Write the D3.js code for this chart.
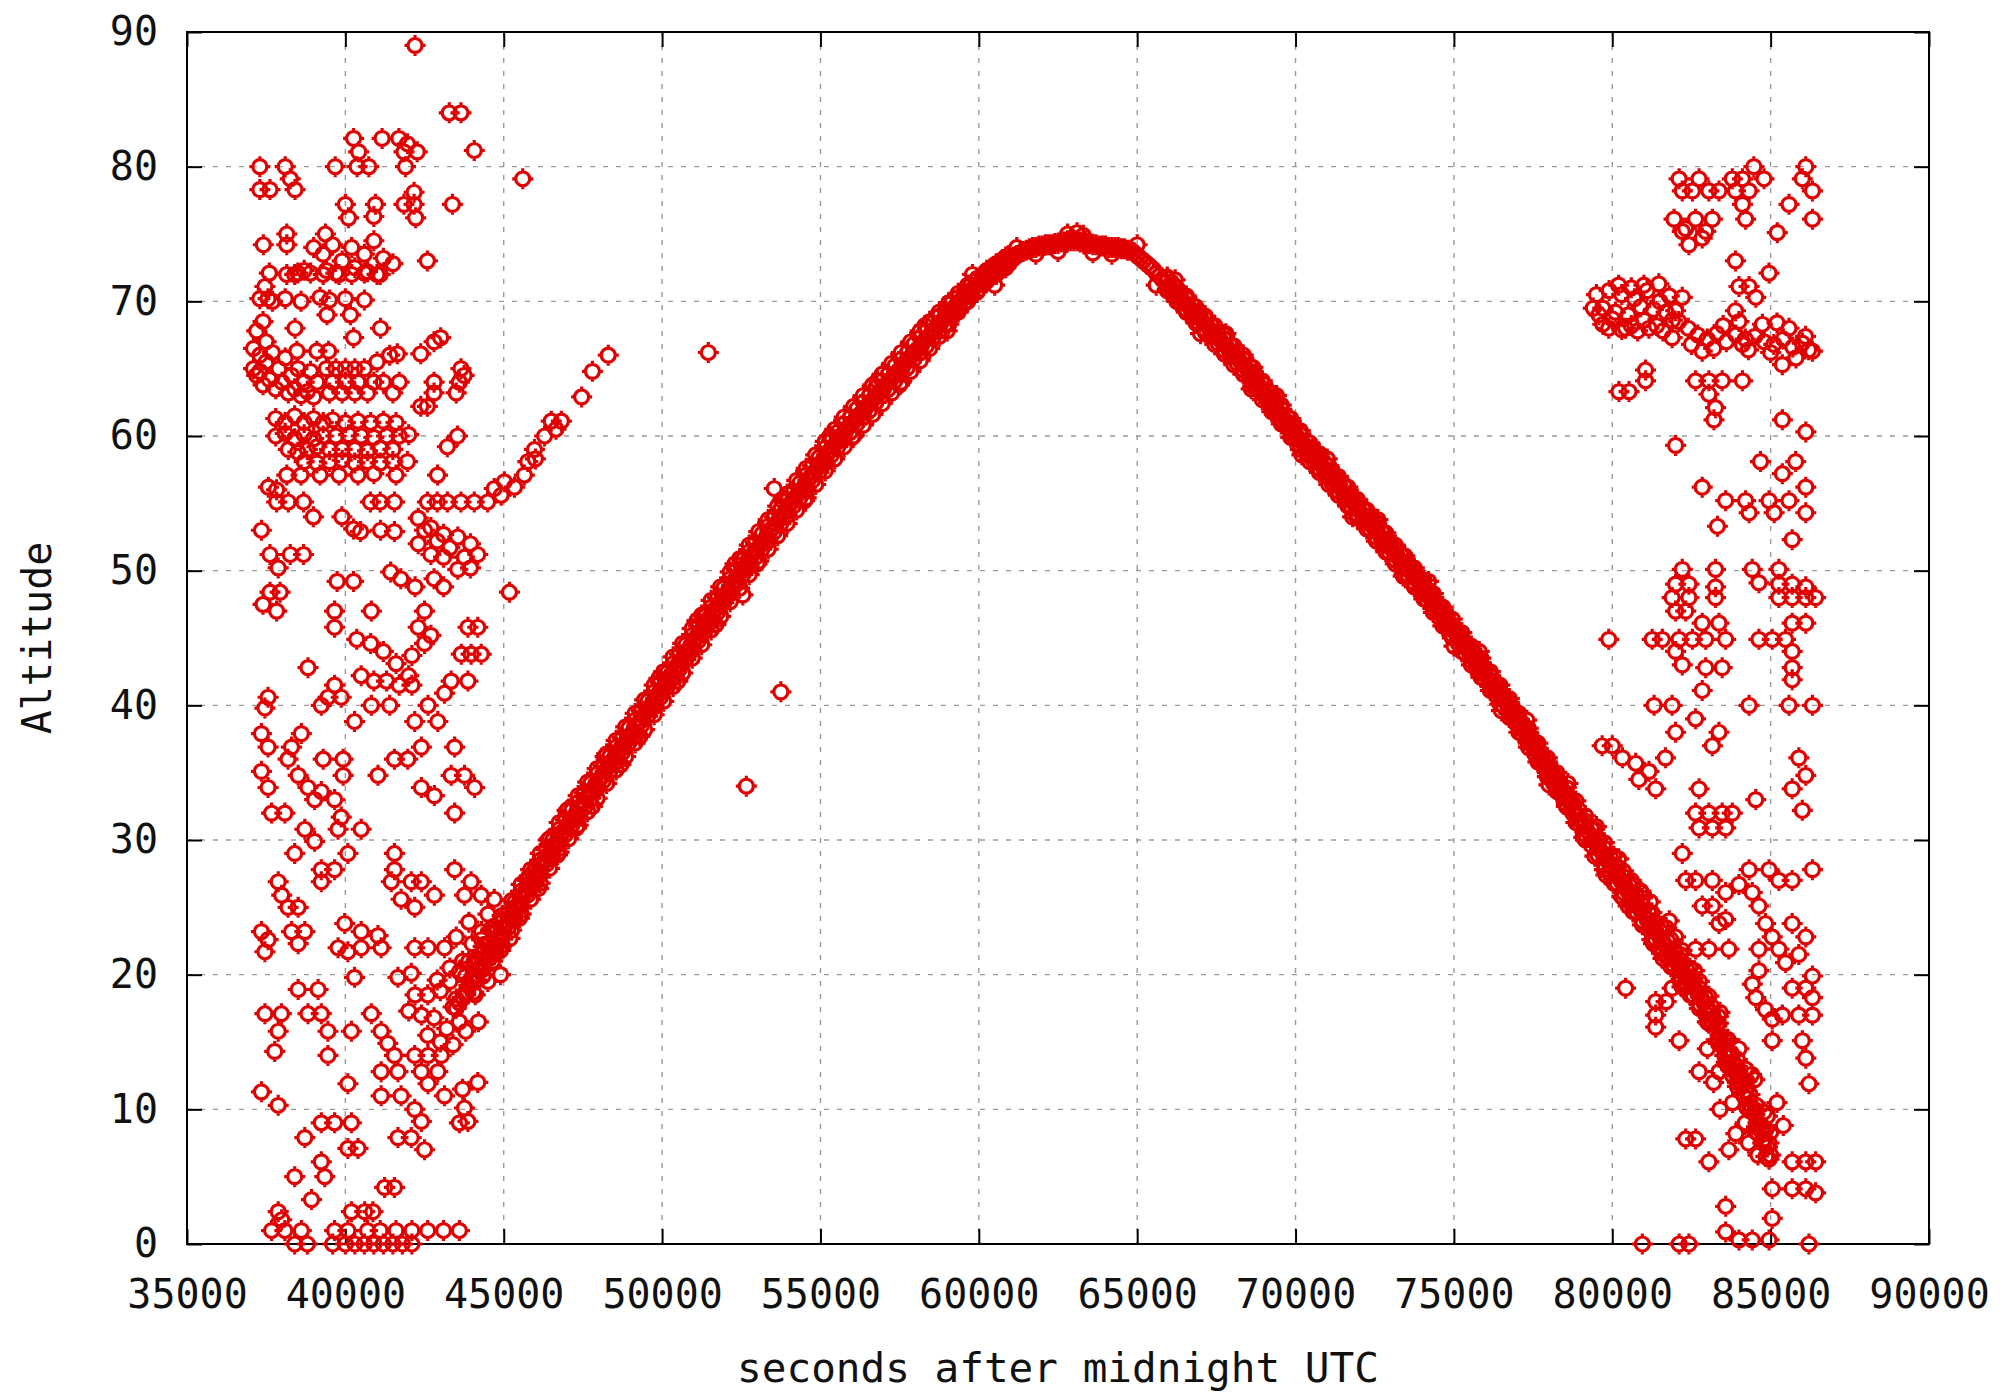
<!DOCTYPE html>
<html><head><meta charset="utf-8">
<script src="https://cdn.jsdelivr.net/npm/d3@7/dist/d3.min.js"></script>
<style>body{margin:0;background:#fff}svg{display:block}</style>
</head><body>
<svg id="chart" width="2008" height="1396"></svg>
<script>
// ---------- data ----------
const xTicks = [35000,40000,45000,50000,55000,60000,65000,70000,75000,80000,85000,90000];
const yTicks = [0,10,20,30,40,50,60,70,80,90];
const xTitle = "seconds after midnight UTC";
const yTitle = "Altitude";

// main dense track: [seconds, altitude]
const track = [
[43500,17.5],[43600,17.9],[43700,18.3],[43800,18.7],[43900,19.2],[44000,19.6],[44100,20.0],[44200,20.4],[44300,20.8],[44400,21.2],
[44500,21.5],[44600,21.9],[44700,22.3],[44800,22.7],[44900,23.1],[45000,23.5],[45100,23.8],[45200,24.2],[45300,24.6],[45400,25.0],
[45500,25.4],[45600,25.8],[45700,26.2],[45800,26.5],[45900,26.9],[46000,27.3],[46100,27.7],[46200,28.1],[46300,28.5],[46400,28.8],
[46500,29.2],[46600,29.6],[46700,30.0],[46800,30.3],[46900,30.7],[47000,31.0],[47100,31.4],[47200,31.7],[47300,32.0],[47400,32.4],
[47500,32.7],[47600,33.1],[47700,33.4],[47800,33.7],[47900,34.1],[48000,34.4],[48100,34.7],[48200,35.1],[48300,35.4],[48400,35.8],
[48500,36.1],[48600,36.4],[48700,36.8],[48800,37.1],[48900,37.5],[49000,37.8],[49100,38.1],[49200,38.5],[49300,38.8],[49400,39.2],
[49500,39.5],[49600,39.8],[49700,40.2],[49800,40.5],[49900,40.9],[50000,41.2],[50100,41.6],[50200,41.9],[50300,42.3],[50400,42.6],
[50500,43.0],[50600,43.3],[50700,43.7],[50800,44.0],[50900,44.4],[51000,44.7],[51100,45.1],[51200,45.4],[51300,45.8],[51400,46.1],
[51500,46.5],[51600,46.8],[51700,47.2],[51800,47.5],[51900,47.9],[52000,48.2],[52100,48.6],[52200,48.9],[52300,49.3],[52400,49.6],
[52500,50.0],[52600,50.3],[52700,50.6],[52800,51.0],[52900,51.3],[53000,51.6],[53100,51.9],[53200,52.2],[53300,52.5],[53400,52.9],
[53500,53.2],[53600,53.5],[53700,53.8],[53800,54.1],[53900,54.4],[54000,54.8],[54100,55.1],[54200,55.4],[54300,55.7],[54400,56.0],
[54500,56.3],[54600,56.7],[54700,57.0],[54800,57.3],[54900,57.6],[55000,57.9],[55100,58.3],[55200,58.6],[55300,58.9],[55400,59.2],
[55500,59.5],[55600,59.8],[55700,60.1],[55800,60.4],[55900,60.7],[56000,60.9],[56100,61.2],[56200,61.5],[56300,61.7],[56400,62.0],
[56500,62.3],[56600,62.5],[56700,62.8],[56800,63.1],[56900,63.3],[57000,63.6],[57100,63.9],[57200,64.1],[57300,64.4],[57400,64.7],
[57500,64.9],[57600,65.2],[57700,65.5],[57800,65.7],[57900,66.0],[58000,66.3],[58100,66.5],[58200,66.8],[58300,67.1],[58400,67.3],
[58500,67.6],[58600,67.9],[58700,68.1],[58800,68.4],[58900,68.7],[59000,68.9],[59100,69.2],[59200,69.5],[59300,69.7],[59400,70.0],
[59500,70.2],[59600,70.4],[59700,70.7],[59800,70.9],[59900,71.1],[60000,71.3],[60100,71.6],[60200,71.8],[60300,72.0],[60400,72.2],
[60500,72.3],[60600,72.5],[60700,72.7],[60800,72.8],[60900,73.0],[61000,73.1],[61100,73.3],[61200,73.4],[61300,73.6],[61400,73.7],
[61500,73.8],[61600,73.9],[61700,74.0],[61800,74.0],[61900,74.1],[62000,74.1],[62100,74.2],[62200,74.2],[62300,74.2],[62400,74.3],
[62500,74.3],[62600,74.4],[62700,74.4],[62800,74.5],[62900,74.5],[63000,74.5],[63100,74.5],[63200,74.4],[63300,74.4],[63400,74.3],
[63500,74.3],[63600,74.2],[63700,74.2],[63800,74.1],[63900,74.1],[64000,74.1],[64100,74.0],[64200,74.0],[64300,74.0],[64400,74.0],
[64500,73.9],[64600,73.9],[64700,73.8],[64800,73.8],[64900,73.6],[65000,73.4],[65100,73.2],[65200,73.0],[65300,72.8],[65400,72.6],
[65500,72.4],[65600,72.1],[65700,71.9],[65800,71.6],[65900,71.4],[66000,71.1],[66100,70.9],[66200,70.6],[66300,70.4],[66400,70.1],
[66500,69.9],[66600,69.7],[66700,69.4],[66800,69.2],[66900,68.9],[67000,68.7],[67100,68.4],[67200,68.2],[67300,67.9],[67400,67.7],
[67500,67.4],[67600,67.2],[67700,66.9],[67800,66.7],[67900,66.4],[68000,66.2],[68100,65.9],[68200,65.7],[68300,65.4],[68400,65.2],
[68500,64.9],[68600,64.6],[68700,64.2],[68800,63.9],[68900,63.6],[69000,63.3],[69100,63.0],[69200,62.7],[69300,62.3],[69400,62.0],
[69500,61.7],[69600,61.4],[69700,61.1],[69800,60.8],[69900,60.4],[70000,60.1],[70100,59.8],[70200,59.6],[70300,59.3],[70400,59.0],
[70500,58.7],[70600,58.4],[70700,58.2],[70800,57.9],[70900,57.6],[71000,57.3],[71100,57.0],[71200,56.7],[71300,56.5],[71400,56.2],
[71500,55.9],[71600,55.6],[71700,55.3],[71800,55.1],[71900,54.8],[72000,54.5],[72100,54.2],[72200,53.9],[72300,53.6],[72400,53.4],
[72500,53.1],[72600,52.8],[72700,52.5],[72800,52.2],[72900,51.9],[73000,51.7],[73100,51.4],[73200,51.1],[73300,50.8],[73400,50.6],
[73500,50.3],[73600,50.0],[73700,49.7],[73800,49.4],[73900,49.1],[74000,48.7],[74100,48.4],[74200,48.1],[74300,47.8],[74400,47.4],
[74500,47.1],[74600,46.8],[74700,46.5],[74800,46.1],[74900,45.8],[75000,45.5],[75100,45.2],[75200,44.9],[75300,44.5],[75400,44.2],
[75500,43.9],[75600,43.6],[75700,43.2],[75800,42.9],[75900,42.6],[76000,42.3],[76100,41.9],[76200,41.6],[76300,41.3],[76400,41.0],
[76500,40.6],[76600,40.3],[76700,40.0],[76800,39.6],[76900,39.3],[77000,38.9],[77100,38.5],[77200,38.2],[77300,37.8],[77400,37.4],
[77500,37.0],[77600,36.7],[77700,36.3],[77800,35.9],[77900,35.6],[78000,35.2],[78100,34.8],[78200,34.4],[78300,34.1],[78400,33.7],
[78500,33.3],[78600,33.0],[78700,32.6],[78800,32.2],[78900,31.9],[79000,31.5],[79100,31.1],[79200,30.7],[79300,30.4],[79400,30.0],
[79500,29.7],[79600,29.3],[79700,29.0],[79800,28.6],[79900,28.3],[80000,27.9],[80100,27.6],[80200,27.2],[80300,26.9],[80400,26.6],
[80500,26.2],[80600,25.9],[80700,25.5],[80800,25.2],[80900,24.8],[81000,24.5],[81100,24.1],[81200,23.8],[81300,23.4],[81400,23.1],
[81500,22.8],[81600,22.4],[81700,22.1],[81800,21.7],[81900,21.4],[82000,21.0],[82100,20.7],[82200,20.3],[82300,20.0],[82400,19.7],
[82500,19.3],[82600,19.0],[82700,18.6],[82800,18.3],[82900,17.9],[83000,17.6],[83100,17.2],[83200,16.8],[83300,16.2],[83400,15.5],
[83500,14.9],[83600,14.4],[83700,13.9],[83800,13.4],[83900,12.9],[84000,12.4],[84100,11.9],[84200,11.4],[84300,10.8],[84400,10.2],
[84500,9.6],[84600,9.0],[84700,8.4],[84800,7.8],[84900,7.2],[85000,6.6]
];

// readings just above / below the track centre
const trackInner = [
[44150,20.8],[44150,19.6],[44350,21.6],[44350,20.4],[44550,22.3],[44550,21.2],[44750,23.1],[44750,22.0],[44950,23.9],[44950,22.8],
[45150,24.6],[45150,23.5],[45350,25.4],[45350,24.3],[45550,26.2],[45550,25.1],[45750,27.0],[45750,25.9],[45950,27.7],[45950,26.6],
[46150,28.5],[46150,27.4],[46350,29.3],[46350,28.2],[46550,30.0],[46550,28.9],[46750,30.8],[46750,29.7],[46950,31.5],[46950,30.4],
[47150,32.2],[47150,31.1],[47350,32.8],[47350,31.7],[47550,33.5],[47550,32.4],[47750,34.2],[47750,33.1],[47950,34.9],[47950,33.8],
[48150,35.5],[48150,34.4],[48350,36.2],[48350,35.1],[48550,36.9],[48550,35.8],[48750,37.6],[48750,36.5],[48950,38.3],[48950,37.2],
[49150,38.9],[49150,37.8],[49350,39.6],[49350,38.5],[49550,40.3],[49550,39.2],[49750,41.0],[49750,39.9],[49950,41.7],[49950,40.6],
[50150,42.4],[50150,41.3],[50350,43.1],[50350,42.0],[50550,43.8],[50550,42.7],[50750,44.5],[50750,43.4],[50950,45.2],[50950,44.1],
[51150,45.9],[51150,44.8],[51350,46.6],[51350,45.5],[51550,47.3],[51550,46.2],[51750,48.0],[51750,46.9],[51950,48.7],[51950,47.6],
[52150,49.4],[52150,48.3],[52350,50.1],[52350,49.0],[52550,50.8],[52550,49.7],[52750,51.4],[52750,50.3],[52950,52.1],[52950,51.0],
[53150,52.7],[53150,51.6],[53350,53.3],[53350,52.2],[53550,54.0],[53550,52.9],[53750,54.6],[53750,53.5],[53950,55.2],[53950,54.1],
[54150,55.9],[54150,54.8],[54350,56.5],[54350,55.4],[54550,57.1],[54550,56.0],[54750,57.8],[54750,56.7],[54950,58.4],[54950,57.3],
[55150,59.1],[55150,58.0],[55350,59.7],[55350,58.6],[55550,60.3],[55550,59.2],[55750,60.9],[55750,59.8],[55950,61.4],[55950,60.3],
[56150,62.0],[56150,60.9],[56350,62.5],[56350,61.4],[56550,63.0],[56550,61.9],[56750,63.6],[56750,62.5],[56950,64.1],[56950,63.0],
[57150,64.6],[57150,63.5],[57350,65.2],[57350,64.1],[57550,65.7],[57550,64.6],[57750,66.2],[57750,65.1],[57950,66.8],[57950,65.7],
[58150,67.3],[58150,66.2],[58350,67.8],[58350,66.7],[58550,68.4],[58550,67.3],[58750,68.9],[58750,67.8],[58950,69.3],[58950,68.3],
[59150,69.9],[59150,68.9],[59350,70.3],[59350,69.5],[59550,70.7],[59550,69.9],[59750,71.2],[59750,70.4],[59950,71.6],[59950,70.8],
[60150,72.0],[60150,71.4],[60350,72.4],[60350,71.8],[60550,72.7],[60550,72.1],[60750,73.1],[60750,72.5],[60950,73.4],[60950,72.8],
[65950,71.7],[65950,70.9],[66150,71.2],[66150,70.4],[66350,70.7],[66350,69.9],[66550,70.2],[66550,69.4],[66750,69.7],[66750,68.9],
[66950,69.2],[66950,68.4],[67150,68.7],[67150,67.9],[67350,68.2],[67350,67.4],[67550,67.7],[67550,66.9],[67750,67.2],[67750,66.4],
[67950,66.7],[67950,65.9],[68150,66.2],[68150,65.4],[68350,65.7],[68350,64.9],[68550,65.2],[68550,64.4],[68750,64.5],[68750,63.7],
[68950,63.9],[68950,63.1],[69150,63.3],[69150,62.5],[69350,62.6],[69350,61.8],[69550,62.0],[69550,61.2],[69750,61.4],[69750,60.6],
[69950,60.7],[69950,59.9],[70150,60.1],[70150,59.3],[70350,59.6],[70350,58.8],[70550,59.0],[70550,58.2],[70750,58.4],[70750,57.6],
[70950,57.9],[70950,57.1],[71150,57.3],[71150,56.5],[71350,56.7],[71350,55.9],[71550,56.2],[71550,55.4],[71750,55.6],[71750,54.8],
[71950,55.0],[71950,54.2],[72150,54.5],[72150,53.7],[72350,53.9],[72350,53.1],[72550,53.3],[72550,52.5],[72750,52.8],[72750,52.0],
[72950,52.2],[72950,51.4],[73150,51.6],[73150,50.8],[73350,51.1],[73350,50.3],[73550,50.5],[73550,49.7],[73750,49.9],[73750,49.1],
[73950,49.3],[73950,48.5],[74150,48.6],[74150,47.8],[74350,48.0],[74350,47.2],[74550,47.3],[74550,46.5],[74750,46.7],[74750,45.9],
[74950,46.0],[74950,45.2],[75150,45.4],[75150,44.6],[75350,44.7],[75350,43.9],[75550,44.1],[75550,43.3],[75750,43.4],[75750,42.6],
[75950,42.8],[75950,42.0],[76150,42.2],[76150,41.4],[76350,41.5],[76350,40.7],[76550,40.8],[76550,40.0],[76750,40.2],[76750,39.4],
[76950,39.5],[76950,38.7],[77150,38.7],[77150,37.9],[77350,38.0],[77350,37.2],[77550,37.2],[77550,36.4],[77750,36.5],[77750,35.7],
[77950,35.8],[77950,35.0],[78150,35.0],[78150,34.2],[78350,34.3],[78350,33.5],[78550,33.5],[78550,32.7],[78750,32.8],[78750,32.0],
[78950,32.2],[78950,31.2],[79150,31.4],[79150,30.4],[79350,30.8],[79350,29.6],[79550,30.1],[79550,28.9],[79750,29.4],[79750,28.2],
[79950,28.7],[79950,27.5],[80150,28.0],[80150,26.8],[80350,27.3],[80350,26.1],[80550,26.6],[80550,25.4],[80750,25.9],[80750,24.7],
[80950,25.2],[80950,24.0],[81150,24.6],[81150,23.4],[81350,23.9],[81350,22.7],[81550,23.2],[81550,22.0],[81750,22.5],[81750,21.3],
[81950,21.8],[81950,20.6],[82150,21.1],[82150,19.9],[82350,20.4],[82350,19.2],[82550,19.7],[82550,18.5],[82750,19.0],[82750,17.8],
[82950,18.3],[82950,17.1],[83150,17.6],[83150,16.4],[83350,16.4],[83350,15.2],[83550,15.2],[83550,14.0],[83750,14.2],[83750,13.0],
[83950,13.2],[83950,12.0],[84150,12.2],[84150,11.0],[84350,11.1],[84350,9.9],[84550,9.9],[84550,8.7],[84750,8.7],[84750,7.5],
[84950,7.5],[84950,6.3]
];

// upper and lower edges of the track
const trackUpper = [
[44050,20.9],[44350,22.1],[44650,23.2],[44950,24.4],[45250,25.5],[45550,26.7],[45850,27.8],[46150,29.0],[46450,30.1],[46750,31.3],
[47050,32.3],[47350,33.3],[47650,34.3],[47950,35.3],[48250,36.4],[48550,37.4],[48850,38.4],[49150,39.4],[49450,40.4],[49750,41.5],
[50050,42.5],[50350,43.6],[50650,44.6],[50950,45.7],[51250,46.7],[51550,47.8],[51850,48.8],[52150,49.9],[52450,50.9],[52750,51.9],
[53050,52.9],[53350,53.8],[53650,54.8],[53950,55.7],[54250,56.7],[54550,57.6],[54850,58.6],[55150,59.6],[55450,60.5],[55750,61.4],
[56050,62.2],[56350,63.0],[56650,63.8],[56950,64.6],[57250,65.4],[57550,66.2],[57850,67.0],[58150,67.8],[58450,68.5],[58750,69.2],
[59050,69.9],[59350,70.6],[59650,71.2],[59950,71.7],[60250,72.3],[60550,72.8],[60850,73.3],
[65950,71.8],[66250,71.0],[66550,70.4],[66850,69.6],[67150,68.9],[67450,68.2],[67750,67.5],[68050,66.7],[68350,66.0],[68650,65.1],
[68950,64.1],[69250,63.2],[69550,62.3],[69850,61.3],[70150,60.4],[70450,59.5],[70750,58.7],[71050,57.8],[71350,57.0],[71650,56.2],
[71950,55.3],[72250,54.5],[72550,53.6],[72850,52.8],[73150,51.9],[73450,51.1],[73750,50.2],[74050,49.3],[74350,48.3],[74650,47.3],
[74950,46.4],[75250,45.4],[75550,44.4],[75850,43.5],[76150,42.5],[76450,41.5],[76750,40.5],[77050,39.4],[77350,38.3],[77650,37.2],
[77950,36.1],[78250,35.0],[78550,33.9],[78850,32.9],[79150,31.8],[79450,30.8],[79750,29.8],[80050,28.8],[80350,27.7],[80650,26.7],
[80950,25.7],[81250,24.6],[81550,23.6],[81850,22.6],[82150,21.5],[82450,20.5],[82750,19.5],[83050,18.4],[83350,16.9],[83650,15.2],
[83950,13.7],[84250,12.1],[84550,10.3],[84850,8.5]
];
const trackLower = [
[44050,18.7],[44350,19.9],[44650,21.0],[44950,22.2],[45250,23.3],[45550,24.5],[45850,25.6],[46150,26.8],[46450,27.9],[46750,29.1],
[47050,30.1],[47350,31.1],[47650,32.1],[47950,33.1],[48250,34.2],[48550,35.2],[48850,36.2],[49150,37.2],[49450,38.2],[49750,39.3],
[50050,40.3],[50350,41.4],[50650,42.4],[50950,43.5],[51250,44.5],[51550,45.6],[51850,46.6],[52150,47.7],[52450,48.7],[52750,49.7],
[53050,50.7],[53350,51.6],[53650,52.6],[53950,53.5],[54250,54.5],[54550,55.4],[54850,56.4],[55150,57.4],[55450,58.3],[55750,59.2],
[56050,60.0],[56350,60.8],[56650,61.6],[56950,62.4],[57250,63.2],[57550,64.0],[57850,64.8],[58150,65.6],[58450,66.5],[58750,67.4],
[59050,68.3],[59350,69.2],[59650,70.0],[59950,70.7],[60250,71.5],[60550,72.0],[60850,72.5],
[65950,70.8],[66250,70.0],[66550,69.2],[66850,68.4],[67150,67.7],[67450,66.8],[67750,66.1],[68050,65.3],[68350,64.6],[68650,63.7],
[68950,62.7],[69250,61.8],[69550,60.9],[69850,59.9],[70150,59.0],[70450,58.1],[70750,57.3],[71050,56.4],[71350,55.6],[71650,54.8],
[71950,53.9],[72250,53.1],[72550,52.2],[72850,51.4],[73150,50.5],[73450,49.7],[73750,48.8],[74050,47.9],[74350,46.9],[74650,45.9],
[74950,45.0],[75250,44.0],[75550,43.0],[75850,42.1],[76150,41.1],[76450,40.1],[76750,39.1],[77050,38.0],[77350,36.9],[77650,35.8],
[77950,34.7],[78250,33.6],[78550,32.5],[78850,31.3],[79150,30.0],[79450,28.8],[79750,27.8],[80050,26.8],[80350,25.7],[80650,24.7],
[80950,23.7],[81250,22.6],[81550,21.6],[81850,20.6],[82150,19.5],[82450,18.5],[82750,17.5],[83050,16.4],[83350,14.9],[83650,13.2],
[83950,11.7],[84250,10.1],[84550,8.3],[84850,6.5]
];

// stray readings just off the track
const trackSpread = [
[44300,22.6],[44600,23.4],[44900,21.8],[45200,22.7],[45500,24.2],[45800,27.3],[46100,26.4],[46400,30.0],[46700,28.9],[47000,32.2],
[47300,30.9],[47800,32.5],[48200,36.2],[48700,35.6],[49300,37.7],[49900,42.0],[50500,41.8],[51100,46.3],[51700,46.0],[52300,50.5],
[53000,50.5],[53800,55.2],[54500,55.2],[55300,60.0],[56000,59.9],[56800,64.1],[57500,63.8],[58300,68.2],[59000,67.8],[59800,72.0],
[60500,71.2],[61200,74.0],[61800,73.5],[62500,73.7],[62800,75.0],[63100,75.1],[63300,74.9],[63600,73.6],[64200,73.5],[65000,74.2],
[65600,71.2],[66200,71.6],[67000,67.6],[67800,67.6],[68600,63.5],[69400,63.0],[70200,58.6],[71000,58.3],[71800,54.0],[72600,53.8],
[73400,49.6],[74200,49.2],[75000,44.4],[75800,44.0],[76500,39.6],[77300,38.9],[78000,34.1],[78600,34.2],[79100,30.2],[79500,31.0],
[79800,27.4],[80200,28.6],[80500,25.1],[80900,26.1],[81300,22.3],[81700,23.5],[82200,19.1],[82600,20.3],[83000,16.5],[83400,17.2],
[83800,12.5],[84200,13.0],[84600,8.2],[84900,9.5]
];

// morning scatter (left cluster)
const morning = [
[43280,84],[43650,84],[42200,89],[40260,82.1],[41160,82.1],[41690,82.1],[40420,81.1],[41850,81.1],[42270,81.1],[41960,81.7],
[44070,81.2],[41900,80],[37300,80],[38100,80],[38260,79.1],[39680,80],[40370,80],[40740,80],[37300,78.3],[37620,78.3],
[38410,78.3],[45600,79.1],[40000,77.2],[40950,77.2],[40100,76.2],[40900,76.3],[41850,77.2],[42170,77.2],[42170,78.1],[42220,76.2],
[43380,77.2],[37410,74.2],[38150,74.2],[38150,75],[39370,75],[39000,74],[39300,73.5],[39600,74.2],[39900,73],[40200,74],
[40600,73.5],[40900,74.5],[41200,73.2],[41500,72.8],[39400,72.3],[39800,72],[40300,72.5],[40700,72.2],[41100,72],[38700,72.3],
[38400,72],[37600,72.1],[42590,73],[38150,72],[38500,72.1],[38900,72.1],[39300,72],[39700,72.1],[40200,72],[40600,72.1],
[41000,72],[37460,71.1],[37560,70.2],[37300,70.2],[37700,70],[38100,70.2],[38600,70],[39200,70.3],[39500,70.1],[40000,70.2],
[40600,70.1],[38410,68],[41110,68],[39420,69],[40160,69],[40260,67.3],[41640,66.1],[42380,66.1],[42800,67],[43010,67.3],
[37100,66.5],[37300,66],[37500,65.5],[37700,66.2],[37900,65],[38100,65.8],[38300,64.5],[38500,65],[38700,64],[38900,64.8],
[39100,64],[37200,64.5],[37400,63.8],[37600,64.2],[37800,63.5],[38000,64],[38200,63.2],[38400,63.5],[38600,63],[38800,63.3],
[39000,62.9],[37100,65],[37300,64.8],[37500,67],[37200,67.8],[37400,68.5],[38470,66.3],[39100,66.3],[39470,66.3],[39400,65],
[39700,65],[40000,65],[40300,65],[40600,65],[39600,64],[40000,64],[40400,64],[40900,64],[41200,64],[41700,64],
[42800,64],[43600,64],[39500,63.2],[39900,63.2],[40300,63.2],[40700,63.2],[41500,63.2],[42800,63.2],[43500,63.2],[42380,62.2],
[42590,62.2],[43650,65],[43750,64.5],[41000,65.5],[41400,66],[37800,61.3],[38100,61],[38400,61.5],[38700,61],[39000,61.3],
[39300,61],[39600,61.2],[40000,61],[40400,61.1],[40800,61],[41200,61.1],[41600,61],[37800,60],[38100,60.2],[38400,59.8],
[38700,60.1],[39000,59.8],[39300,60],[39700,60],[40100,60.1],[40500,60],[40900,59.9],[41300,60],[41700,60],[42000,60.1],
[38200,59],[38500,58.8],[38800,59],[39100,59.2],[39500,59],[39900,59],[40300,59],[40700,58.9],[41100,59.1],[41500,59],
[38700,58.1],[39100,58],[39500,58.1],[39900,58.2],[40300,58],[40700,58.1],[41100,58],[41500,58.1],[41960,58.1],[43220,59.2],
[43540,60],[46500,61.1],[46820,61.1],[46290,60],[45970,59],[45760,58.1],[45650,57.1],[45340,56.2],[44920,55.6],[44490,55.1],
[44070,55.1],[43650,55.1],[43220,55.1],[44700,56.1],[45020,56.6],[46650,60.5],[46000,58.3],[47460,62.9],[47800,64.8],[48300,66],
[38150,57.1],[38600,57.1],[39200,57.1],[39800,57.1],[40400,57.1],[40900,57.2],[41600,57.1],[42910,57.1],[37570,56.2],[37830,56],
[37830,55.1],[38200,55.1],[38680,55.1],[40790,55.1],[41100,55.1],[41550,55.1],[42590,55.1],[42900,55.1],[38990,54],[39890,54],
[37350,53],[40260,53.1],[40480,52.9],[41110,53],[41550,52.9],[42300,53.9],[42700,53.2],[43100,52.7],[43550,52.5],[43950,52],
[42500,53],[42900,52.2],[43300,51.7],[43760,51],[43100,51],[43550,50.1],[43950,50.2],[44180,51.2],[42300,52],[42700,51.2],
[37620,51.2],[38260,51.2],[38680,51.2],[37880,50.2],[39740,49.2],[40260,49.2],[41430,49.9],[41750,49.4],[42200,48.8],[42800,49.4],
[43100,48.8],[45180,48.4],[37620,48.4],[37940,48.4],[37400,47.5],[37830,47],[39660,47],[39660,45.8],[40820,47],[42500,47],
[40360,44.9],[40800,44.6],[41200,44],[41600,43.1],[42000,42.2],[40500,42.2],[40900,41.8],[41300,41.8],[41700,41.5],[42100,41.5],
[42300,45.8],[42500,44.6],[42100,43.7],[42700,45.2],[43870,45.8],[44180,45.8],[43660,43.8],[43970,43.8],[44290,43.8],[43340,41.8],
[43870,41.8],[43130,40.9],[38820,42.8],[37560,40.6],[37460,39.8],[39660,41.5],[39450,40.6],[39870,40.6],[39240,40],[40290,38.8],
[40820,40],[41400,40],[42190,38.8],[42610,40],[42920,38.8],[43450,36.9],[42400,36.9],[41550,36],[41970,36],[41030,34.8],
[42400,33.9],[42810,33.3],[43340,34.8],[43760,34.8],[44080,33.9],[43450,32],[37350,37.9],[37560,36.9],[38300,36.9],[38610,37.9],
[38190,36],[39300,36],[39930,36],[39930,34.8],[37350,35.1],[37560,33.9],[38510,34.8],[38820,33.9],[39030,33],[39240,33.6],
[39660,33],[39870,31.7],[37670,32],[38090,32],[38720,30.8],[39030,29.9],[39770,30.8],[40500,30.8],[38400,29],[40080,29],
[39240,27.8],[39660,27.8],[39240,26.9],[41550,29],[41550,27.8],[41450,26.9],[42080,26.9],[42400,26.9],[42810,25.9],[41760,25.6],
[42190,25],[43450,27.8],[43970,26.9],[43760,25.9],[44290,25.9],[44700,25.6],[37880,26.9],[37990,25.9],[38190,25],[38510,25],
[37350,23.2],[37560,22.6],[37460,21.7],[38300,23.2],[38510,22.3],[38720,23.2],[39980,23.8],[40500,23.2],[41030,22.9],[39770,22],
[40080,21.7],[40500,22],[41130,22],[40290,19.8],[42190,22],[42610,22],[43130,22],[41660,19.8],[42080,20.1],[42200,18.5],
[42600,18.5],[43000,18.8],[43400,17.6],[43800,18.5],[44100,18.5],[42400,17],[42800,16.8],[43200,16],[43600,16.5],[42000,17.3],
[42600,15.5],[43000,15],[43400,14.8],[43800,15.8],[44200,16.5],[42900,19.6],[43300,20.5],[43700,21],[44000,22.3],[44300,23.2],
[43900,23.9],[43500,22.8],[44500,24.5],[44700,21.5],[44900,20],[44500,19.5],[38510,18.9],[39140,18.9],[37460,17.1],[37980,17.1],
[38820,17.1],[39240,17.1],[37880,15.8],[37770,14.3],[39450,15.8],[39450,14],[40190,15.8],[40820,17.1],[41130,15.8],[41340,14.9],
[41550,14],[41130,12.8],[41660,12.8],[42190,14],[42610,14],[43030,14],[42400,12.8],[42920,12.8],[42610,11.9],[43130,11],
[43760,10.1],[43870,9.1],[44180,12],[40080,11.9],[37350,11.3],[37880,10.3],[39240,9],[39660,9],[40190,9],[38720,7.9],
[40080,7.1],[40400,7.1],[41130,11],[41760,11],[42190,10],[42400,9.1],[42500,7],[41660,7.9],[42080,7.9],[43600,9],
[43700,11.5],[39240,6.1],[39350,5],[38400,5],[38930,3.3],[41240,4.2],[41550,4.2],[37880,2.4],[37990,1.8],[40190,2.4],
[40610,2.4],[40870,2.4],[37670,1],[38090,1],[38610,1],[39660,1],[40080,1],[40700,1],[41100,1],[41600,1],
[42100,1],[42600,1],[43100,1],[43600,1],[38400,0],[38800,0],[39600,0],[40000,0],[40300,0],[40600,0],
[40900,0],[41200,0],[41500,0],[41800,0],[42100,0],[43300,19.5],[43600,20.2],[43900,21],[43500,18.2],[43800,19.9]
];

// evening scatter (right cluster)
const evening = [
[82110,79.1],[82740,79.1],[82210,78.2],[82530,78.2],[83050,78.2],[83370,78.2],[83790,79.1],[84110,79.1],[84470,80],[84790,79.1],
[83890,78.2],[84320,78.2],[84110,77.2],[84210,76.1],[86110,80],[86000,79.1],[86320,78.2],[86320,76.1],[85580,77.2],[85210,75.1],
[81950,76.1],[82320,75.4],[82630,76.1],[83160,76.1],[82950,75.2],[82420,74.2],[82840,74.7],[82210,75.2],[83890,73],[84950,72.1],
[84000,71.1],[84320,71.1],[84530,70.3],[79580,69],[79890,68],[80420,68],[81160,68],[81470,71.3],[82210,70.3],[81890,67.3],
[82840,66.3],[83890,69.3],[84110,66.8],[84740,68.3],[85580,68],[85370,65.3],[86320,66.3],[79500,70.5],[79700,69.5],[79900,70.8],
[80100,69.2],[80300,70.5],[80500,69],[80700,70.2],[80900,69.6],[81100,70.8],[81300,69.4],[81500,70],[81700,69.2],[81900,68.6],
[82100,68.5],[79400,69.5],[79700,68.3],[80000,68.7],[80300,67.9],[80600,68.2],[80800,67.8],[81000,68.6],[81400,68.2],[81600,67.8],
[80200,71.2],[80600,71],[81000,71.2],[81800,70.4],[82000,69.3],[82400,68],[82700,67.5],[83000,67.2],[83300,67.6],[83600,67],
[83900,67.5],[84200,67.2],[84500,67.4],[84800,67],[85100,66.8],[85400,67.2],[85700,66.6],[86000,66.9],[86200,66.4],[82500,66.8],
[83200,66.5],[84300,66.4],[85000,66.2],[85800,65.8],[83500,68.2],[84000,68.5],[85200,68.4],[86100,67.4],[81050,64.9],[81050,64.1],
[80210,63.3],[80530,63.3],[82630,64.1],[83050,64.1],[83470,64.1],[84110,64.1],[83050,63.1],[83260,62.1],[83210,61.2],[85370,61.2],
[86110,60.3],[82000,59.3],[82840,56.2],[83580,55.2],[84210,55.2],[84320,54.3],[84680,58.1],[85370,57.2],[85790,58.1],[86110,56.2],
[86110,54.3],[84950,55.2],[85580,55.2],[85110,54.3],[83320,53.3],[85680,52.3],[82210,50.1],[83260,50.1],[84420,50.1],[85260,50.1],
[82000,49],[82420,49],[83260,48.8],[84630,49.1],[85260,49],[85680,49],[86110,48.8],[81890,48],[82420,48],[83260,48],
[85260,48],[85680,48],[86110,48],[86420,48],[82000,47],[82320,47],[82840,46.1],[83370,46.1],[85680,46.1],[86110,46.1],
[79890,44.9],[81260,44.9],[81580,44.9],[82110,44.9],[82530,44.9],[82950,44.9],[83580,44.9],[84630,44.9],[85050,44.9],[85470,44.9],
[82000,44],[82210,43],[82950,42.8],[83470,42.8],[85680,44],[85680,42.8],[85680,41.9],[82840,41.1],[81320,40],[81890,40],
[84320,40],[85580,40],[86320,40],[82000,38],[83370,38],[82630,39],[83160,37],[79680,37],[80000,37],[80320,36.1],
[80740,35.7],[81160,35.1],[80840,34.5],[81370,33.8],[81680,36.1],[85890,36.1],[86110,34.8],[85680,33.8],[86000,32.2],[82740,33.8],
[82630,32],[83050,32],[83470,32],[83790,32],[82740,30.9],[83160,30.9],[83580,30.9],[84530,33],[82210,29],[82320,27],
[82630,27],[83160,27],[83580,26.1],[84000,26.7],[84420,26.1],[84630,25.1],[84320,27.8],[84950,27.8],[85260,27],[85680,27],
[86320,27.8],[82840,25.1],[83160,25.1],[83370,23.8],[83580,24.1],[84840,23.8],[85680,23.8],[86110,22.8],[85050,22.8],[85260,21.9],
[85470,20.9],[85890,21.5],[84630,21.9],[84630,20.3],[84420,19.3],[84530,18.3],[84840,17.4],[85050,16.7],[85680,19],[86110,19],
[86320,19.9],[86320,18.3],[85370,17],[85890,17],[86320,17],[86000,15.1],[86110,13.8],[85050,15.1],[86210,11.9],[82630,21.9],
[83050,21.9],[83680,21.9],[82110,20.3],[81890,19],[81370,18],[81700,18],[81370,17],[81370,16.1],[82110,15.1],[80420,19],
[82740,12.8],[83370,12.8],[83600,13.5],[84000,14.5],[82320,7.8],[82630,7.8],[83050,6.1],[83680,7],[85680,6.1],[86110,6.1],
[86420,6.1],[85050,4.1],[85680,4.1],[86110,4.1],[86420,3.8],[83580,2.8],[85050,1.9],[83580,0.9],[84000,0.3],[84420,0.3],
[84950,0.3],[80950,0],[82110,0],[82420,0],[86210,0],[80600,27],[80900,26.2],[81200,25.4],[80300,25.8],[81500,23.3],
[81800,24],[82000,22.8],[82200,21.8],[81600,21.2],[83800,10.5],[84200,9],[84400,12.6],[84800,9.8],[85000,8.3],[84600,6.6],
[84300,7.5],[83900,8.2],[83400,10],[83200,12],[83000,14.5],[84500,12.2],[85200,10.5],[85400,8.8]
];

// isolated points in the middle of the day
const strays = [[51460,66.2],[52660,34],[53750,41],[53540,56.1],[52550,48.2]];

// ---------- drawing ----------
const svg = d3.select("#chart");
const x = d3.scaleLinear().domain([35000, 90000]).range([187, 1929]);
const y = d3.scaleLinear().domain([0, 90]).range([1244, 32]);
const FONT = "'DejaVu Sans Mono', 'Liberation Mono', monospace";

// grid
const grid = svg.append("g").attr("stroke", "#9a9a9a").attr("stroke-width", 1.4).attr("stroke-dasharray", "5,8").attr("fill", "none");
grid.selectAll("line.v").data(xTicks.slice(1, -1)).join("line").attr("class", "v")
  .attr("x1", d => x(d)).attr("x2", d => x(d)).attr("y1", y(90)).attr("y2", y(0));
grid.selectAll("line.h").data(yTicks.slice(1, -1)).join("line").attr("class", "h")
  .attr("x1", x(35000)).attr("x2", x(90000)).attr("y1", d => y(d)).attr("y2", d => y(d));

// frame
svg.append("rect").attr("x", x(35000)).attr("y", y(90))
  .attr("width", x(90000) - x(35000)).attr("height", y(0) - y(90))
  .attr("fill", "none").attr("stroke", "#000").attr("stroke-width", 2);

function styleAxis(g) {
  g.select(".domain").remove();
  g.selectAll(".tick line").attr("stroke", "#000").attr("stroke-width", 2);
  g.selectAll(".tick text").attr("fill", "#111").style("font-family", FONT).style("font-size", "40px");
}
svg.append("g").attr("transform", `translate(0,${y(0)})`)
  .call(d3.axisBottom(x).tickValues(xTicks).tickFormat(d3.format("d")).tickSize(-15).tickPadding(36)).call(styleAxis);
svg.append("g").attr("transform", `translate(0,${y(90)})`)
  .call(d3.axisTop(x).tickValues(xTicks).tickFormat("").tickSize(-15)).call(styleAxis);
svg.append("g").attr("transform", `translate(${x(35000)},0)`)
  .call(d3.axisLeft(y).tickValues(yTicks).tickFormat(d3.format("d")).tickSize(-15).tickPadding(29)).call(styleAxis);
svg.append("g").attr("transform", `translate(${x(90000)},0)`)
  .call(d3.axisRight(y).tickValues(yTicks).tickFormat("").tickSize(-15)).call(styleAxis);

// axis titles
svg.append("text").attr("x", (x(35000) + x(90000)) / 2).attr("y", 1382)
  .attr("text-anchor", "middle").attr("fill", "#111")
  .style("font-family", FONT).style("font-size", "41px").text(xTitle);
svg.append("text").attr("transform", `translate(51,${(y(0) + y(90)) / 2}) rotate(-90)`)
  .attr("text-anchor", "middle").attr("fill", "#111")
  .style("font-family", FONT).style("font-size", "40px").text(yTitle);

// markers: gnuplot-like hollow circle with small spikes
const marker = "M7,0A7,7 0 1,1 -7,0A7,7 0 1,1 7,0Z M0,-7V-10.5 M0,7V10.5 M-7,0H-10.5 M7,0H10.5";
const allPoints = [].concat(morning, evening, strays, trackSpread, trackUpper, trackLower, trackInner, track);
svg.append("g").attr("fill", "none").attr("stroke", "#e00000").attr("stroke-width", 3.2)
  .selectAll("path").data(allPoints).join("path")
  .attr("d", marker)
  .attr("transform", d => `translate(${x(d[0])},${y(d[1])})`);
</script>
</body></html>
